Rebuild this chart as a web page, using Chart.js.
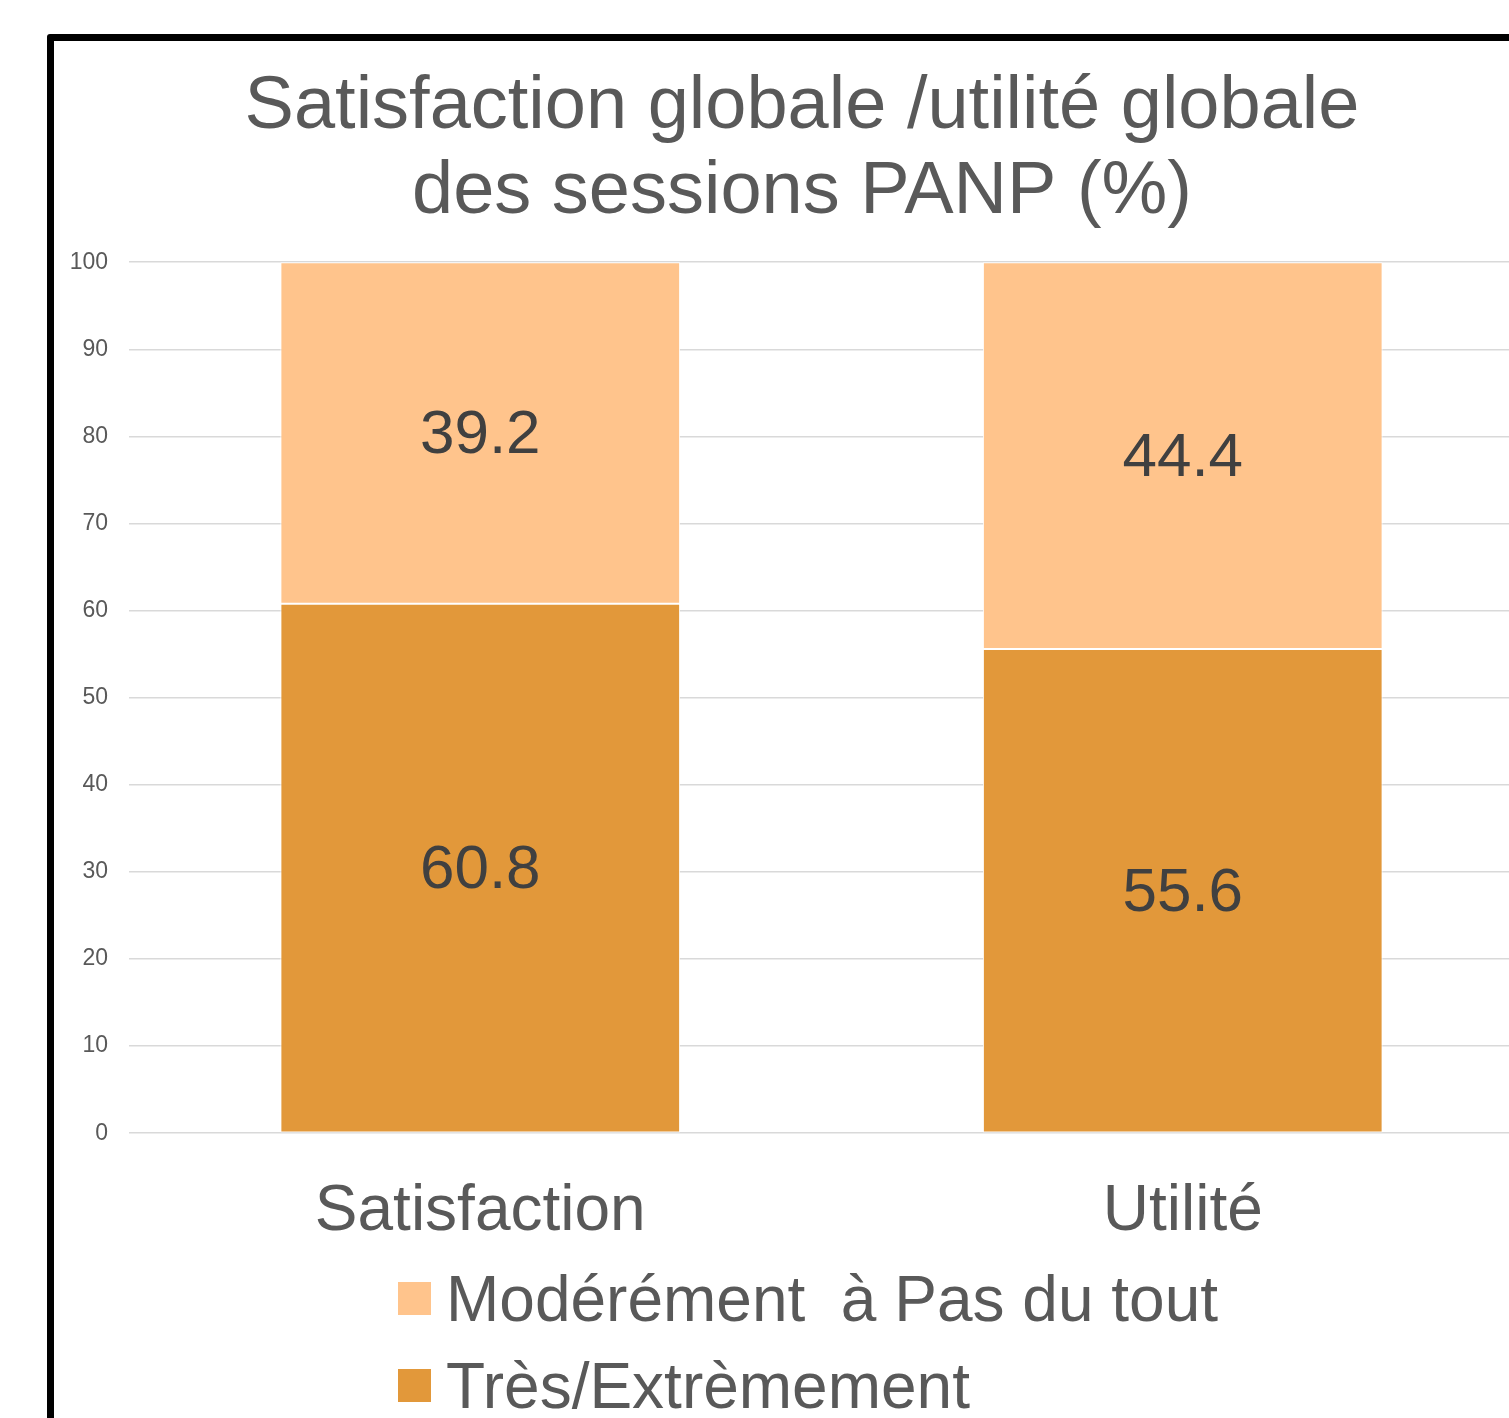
<!DOCTYPE html>
<html>
<head>
<meta charset="utf-8">
<script src="https://cdn.jsdelivr.net/npm/chart.js@4"></script>
<style>
  html, body { margin: 0; padding: 0; background: #fff; overflow: hidden; }
  body { width: 1509px; height: 1418px; position: relative; font-family: "Liberation Sans", Arial, sans-serif; }
  .frame {
    position: absolute; left: 47px; top: 34px;
    width: 1600px; height: 1500px;
    border: 7px solid #000; border-radius: 3px;
  }
  .chart-box { position: absolute; left: 54px; top: 41px; width: 1506px; height: 1377px; }
  .legend { position: absolute; left: 398px; top: 1255px; }
  .legend-row { display: flex; align-items: center; height: 87px; }
  .legend-row i { display: block; width: 33px; height: 33px; margin-right: 15px; }
  .legend-row span { font-size: 64px; line-height: 1; color: #595959; white-space: pre; }
</style>
</head>
<body>
<div class="frame"></div>
<div class="chart-box"><canvas id="chart"></canvas></div>
<div class="legend" id="legend"></div>
<script>
const categories = ["Satisfaction", "Utilité"];
const tresValues = [60.8, 55.6];
const moderementValues = [39.2, 44.4];
const seriesNames = ["Très/Extrèmement", "Modérément  à Pas du tout"];
const titleLines = ["Satisfaction globale /utilité globale", "des sessions PANP (%)"];

const fontFamily = '"Liberation Sans", Arial, sans-serif';
const textGray = "#595959";

// value labels in the middle of each segment
const valueLabels = {
  id: "valueLabels",
  afterDatasetsDraw(chart) {
    const ctx = chart.ctx;
    ctx.save();
    ctx.font = `62px ${fontFamily}`;
    ctx.fillStyle = "#404040";
    ctx.textAlign = "center";
    ctx.textBaseline = "middle";
    chart.data.datasets.forEach((dataset, i) => {
      chart.getDatasetMeta(i).data.forEach((bar, j) => {
        const y = (bar.y + bar.base) / 2 + 3;
        ctx.fillText(dataset.data[j].toFixed(1), bar.x, y);
      });
    });
    ctx.restore();
  }
};

const chart = new Chart(document.querySelector("#chart"), {
  type: "bar",
  data: {
    labels: categories,
    datasets: [
      {
        label: seriesNames[0],
        data: tresValues,
        backgroundColor: "#E2983A",
        borderColor: "#ffffff",
        borderWidth: 1,
        borderSkipped: false
      },
      {
        label: seriesNames[1],
        data: moderementValues,
        backgroundColor: "#FFC48C",
        borderColor: "#ffffff",
        borderWidth: 1,
        borderSkipped: false
      }
    ]
  },
  options: {
    responsive: true,
    maintainAspectRatio: false,
    animation: false,
    layout: { padding: { left: 16, right: 26, top: 0, bottom: 134 } },
    datasets: {
      bar: { barPercentage: 0.569, categoryPercentage: 1 }
    },
    scales: {
      x: {
        stacked: true,
        grid: { display: false },
        border: { display: false },
        ticks: {
          color: textGray,
          padding: 33,
          font: { family: fontFamily, size: 64 }
        }
      },
      y: {
        stacked: true,
        min: 0,
        max: 100,
        border: { display: false },
        grid: { color: "#D9D9D9", lineWidth: 1.5, drawTicks: false },
        ticks: {
          stepSize: 10,
          color: textGray,
          padding: 21,
          font: { family: fontFamily, size: 23 }
        },
        afterFit: (scale) => { scale.width = 59; }
      }
    },
    plugins: {
      legend: { display: false },
      tooltip: { enabled: false },
      title: {
        display: true,
        text: titleLines,
        color: textGray,
        font: { family: fontFamily, size: 74, weight: "normal", lineHeight: 1.15 },
        padding: { top: 24, bottom: 27 }
      }
    }
  },
  plugins: [valueLabels]
});

document.querySelector("#legend").innerHTML = chart.data.datasets
  .slice()
  .reverse()
  .map((dataset) => `
    <div class="legend-row">
      <i style="background: ${dataset.backgroundColor}"></i>
      <span>${dataset.label}</span>
    </div>
  `)
  .join("");
</script>
</body>
</html>
